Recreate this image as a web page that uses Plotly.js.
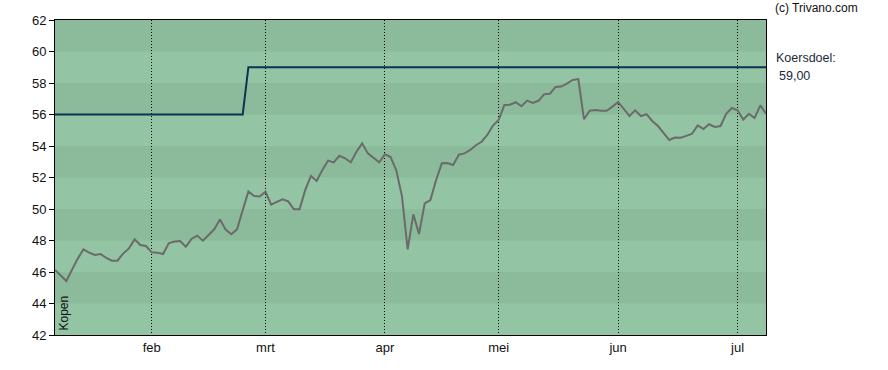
<!DOCTYPE html>
<html>
<head>
<meta charset="utf-8">
<script src="https://cdn.plot.ly/plotly-3.0.1.min.js"></script>
<style>html,body{margin:0;padding:0;background:#fff;}#chart{width:888px;height:370px;}</style>
</head>
<body>
<div id="chart"></div>
<script>
// Trading days (Euronext 2025)
var datesJan = ['2025-01-09','2025-01-10','2025-01-13','2025-01-14','2025-01-15','2025-01-16','2025-01-17','2025-01-20','2025-01-21','2025-01-22','2025-01-23','2025-01-24','2025-01-27','2025-01-28','2025-01-29','2025-01-30','2025-01-31'];
var datesFeb = ['2025-02-03','2025-02-04','2025-02-05','2025-02-06','2025-02-07','2025-02-10','2025-02-11','2025-02-12','2025-02-13','2025-02-14','2025-02-17','2025-02-18','2025-02-19','2025-02-20','2025-02-21','2025-02-24','2025-02-25','2025-02-26','2025-02-27','2025-02-28'];
var datesMar = ['2025-03-03','2025-03-04','2025-03-05','2025-03-06','2025-03-07','2025-03-10','2025-03-11','2025-03-12','2025-03-13','2025-03-14','2025-03-17','2025-03-18','2025-03-19','2025-03-20','2025-03-21','2025-03-24','2025-03-25','2025-03-26','2025-03-27','2025-03-28','2025-03-31'];
var datesApr = ['2025-04-01','2025-04-02','2025-04-03','2025-04-04','2025-04-07','2025-04-08','2025-04-09','2025-04-10','2025-04-11','2025-04-14','2025-04-15','2025-04-16','2025-04-17','2025-04-22','2025-04-23','2025-04-24','2025-04-25','2025-04-28','2025-04-29','2025-04-30'];
var datesMay = ['2025-05-02','2025-05-05','2025-05-06','2025-05-07','2025-05-08','2025-05-09','2025-05-12','2025-05-13','2025-05-14','2025-05-15','2025-05-16','2025-05-19','2025-05-20','2025-05-21','2025-05-22','2025-05-23','2025-05-26','2025-05-27','2025-05-28','2025-05-29','2025-05-30'];
var datesJun = ['2025-06-02','2025-06-03','2025-06-04','2025-06-05','2025-06-06','2025-06-09','2025-06-10','2025-06-11','2025-06-12','2025-06-13','2025-06-16','2025-06-17','2025-06-18','2025-06-19','2025-06-20','2025-06-23','2025-06-24','2025-06-25','2025-06-26','2025-06-27','2025-06-30'];
var datesJul = ['2025-07-01','2025-07-02','2025-07-03','2025-07-04','2025-07-07','2025-07-08'];

var priceJan = [46.13,45.8,45.43,46.15,46.85,47.44,47.23,47.08,47.14,46.9,46.72,46.72,47.18,47.5,48.07,47.71,47.65];
var priceFeb = [47.25,47.23,47.14,47.82,47.93,47.97,47.61,48.1,48.31,47.99,48.35,48.71,49.34,48.69,48.4,48.71,49.92,51.12,50.83,50.8];
var priceMar = [51.1,50.27,50.45,50.62,50.48,49.98,49.98,51.21,52.1,51.78,52.48,53.07,52.96,53.38,53.22,52.96,53.64,54.17,53.53,53.26,52.96];
var priceApr = [53.47,53.3,52.45,50.8,47.44,49.66,48.41,50.36,50.57,51.84,52.9,52.92,52.79,53.45,53.53,53.75,54.05,54.27,54.7,55.3];
var priceMay = [55.65,56.6,56.62,56.78,56.52,56.88,56.73,56.87,57.29,57.32,57.75,57.77,57.96,58.19,58.25,55.7,56.24,56.29,56.24,56.24,56.5];
var priceJun = [56.78,56.36,55.9,56.26,55.9,56.02,55.59,55.27,54.8,54.38,54.54,54.53,54.64,54.78,55.31,55.08,55.38,55.21,55.27,56.04,56.41];
var priceJul = [56.27,55.68,56.04,55.78,56.58,56.05];

// Koersdoel (price target)
var targetDates = ['2025-01-09','2025-02-25','2025-02-26','2025-07-08'];
var targetValues = [56, 56, 59, 59];
var targetLabel = '59,00';

// Axis ticks
var monthTickDates = ['2025-02-03','2025-03-03','2025-04-01','2025-05-02','2025-06-02','2025-07-01'];
var monthTickLabels = ['feb','mrt','apr','mei','jun','jul'];
var yTicks = [42,44,46,48,50,52,54,56,58,60,62];

var dates = [].concat(datesJan, datesFeb, datesMar, datesApr, datesMay, datesJun, datesJul);
var prices = [].concat(priceJan, priceFeb, priceMar, priceApr, priceMay, priceJun, priceJul);

var FONT = 'Arial, "Liberation Sans", sans-serif';

var shapes = [];
for (var i = 0; i < yTicks.length - 1; i++) {
  shapes.push({
    type: 'rect', xref: 'paper', x0: 0, x1: 1, yref: 'y',
    y0: yTicks[i], y1: yTicks[i + 1],
    fillcolor: (i % 2 === 0) ? '#93c4a3' : '#8bbb9a',
    line: {width: 0}, layer: 'below'
  });
}

var traces = [
  {
    x: dates, y: prices, type: 'scatter', mode: 'lines',
    line: {color: '#6b6b6b', width: 2}, hoverinfo: 'skip'
  },
  {
    x: targetDates, y: targetValues, type: 'scatter', mode: 'lines',
    line: {color: '#0c3352', width: 2}, hoverinfo: 'skip'
  }
];

var layout = {
  width: 888, height: 370,
  margin: {l: 55, r: 122, t: 20, b: 35, pad: 0},
  paper_bgcolor: '#ffffff',
  plot_bgcolor: '#93c4a3',
  showlegend: false,
  font: {family: FONT, size: 12, color: '#111'},
  xaxis: {
    type: 'category',
    range: [0, dates.length - 1],
    tickmode: 'array', tickvals: monthTickDates, ticktext: monthTickLabels,
    ticks: '', showgrid: true, gridcolor: '#000', gridwidth: 1, griddash: '1px,2px',
    showline: true, linecolor: '#000', linewidth: 1, mirror: true,
    tickfont: {family: FONT, size: 13, color: '#111'},
    zeroline: false, fixedrange: true
  },
  yaxis: {
    range: [42, 62],
    tickmode: 'array', tickvals: yTicks, ticktext: yTicks.map(String),
    ticks: 'outside', ticklen: 5, tickcolor: '#000', tickwidth: 1,
    showgrid: false, zeroline: false,
    showline: true, linecolor: '#000', linewidth: 1, mirror: true,
    tickfont: {family: FONT, size: 13, color: '#111'},
    fixedrange: true
  },
  shapes: shapes,
  annotations: [
    {text: '(c) Trivano.com', xref: 'paper', yref: 'paper', x: 1, y: 1,
     xshift: 7, yshift: 12, xanchor: 'left', yanchor: 'middle', showarrow: false,
     font: {family: FONT, size: 12, color: '#111'}},
    {text: 'Koersdoel:', xref: 'paper', yref: 'paper', x: 1, y: 1,
     xshift: 8, yshift: -38, xanchor: 'left', yanchor: 'middle', showarrow: false,
     font: {family: FONT, size: 12.5, color: '#1a2a3a'}},
    {text: targetLabel, xref: 'paper', yref: 'paper', x: 1, y: 1,
     xshift: 11, yshift: -56, xanchor: 'left', yanchor: 'middle', showarrow: false,
     font: {family: FONT, size: 12.5, color: '#1a2a3a'}},
    {text: 'Kopen', xref: 'paper', yref: 'paper', x: 0, y: 0,
     xshift: -1, yshift: 2, xanchor: 'left', yanchor: 'bottom', textangle: -90, showarrow: false,
     font: {family: FONT, size: 12, color: '#111'}}
  ]
};

Plotly.newPlot('chart', traces, layout, {staticPlot: true, displayModeBar: false});
</script>
</body>
</html>
